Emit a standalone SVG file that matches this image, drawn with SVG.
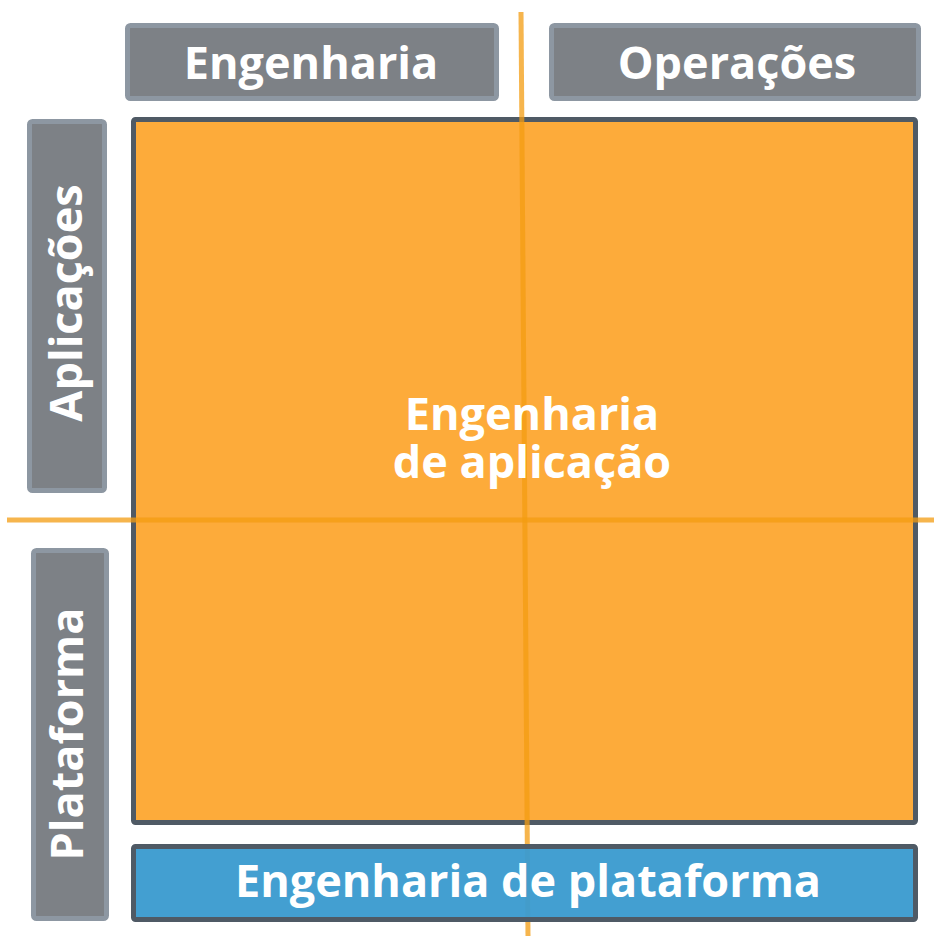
<svg xmlns="http://www.w3.org/2000/svg" width="934" height="936" viewBox="0 0 934 936">
<style>
.hdr{fill:#7d8186;stroke:#8d97a2;stroke-width:5}
.lbl{font-family:"Open Sans","Noto Sans",sans-serif;font-weight:700;font-size:45px;fill:#ffffff;text-anchor:middle}
.axis{stroke:#f39c12;stroke-opacity:0.75;stroke-width:5;fill:none}
</style>
<rect width="934" height="936" fill="#ffffff"/>
<g id="engenharia">
<rect class="hdr" x="127.5" y="25.5" width="369" height="73" rx="3"/>
<text class="lbl" x="311" y="79">Engenharia</text>
</g>
<g id="operacoes">
<rect class="hdr" x="551.5" y="25.5" width="367" height="73" rx="3"/>
<text class="lbl" x="737" y="79">Operações</text>
</g>
<g id="aplicacoes">
<rect class="hdr" x="29.5" y="121.5" width="75" height="369" rx="3"/>
<text class="lbl" transform="translate(82,303) rotate(-90)" x="0" y="0">Aplicações</text>
</g>
<g id="plataforma">
<rect class="hdr" x="33.5" y="550.5" width="73" height="368" rx="3"/>
<text class="lbl" transform="translate(83,734) rotate(-90)" x="0" y="0">Plataforma</text>
</g>
<g id="engenharia-aplicacao">
<rect x="133.5" y="119.5" width="782" height="703" rx="2" fill="#fdab3a" stroke="#4f5a65" stroke-width="5"/>
</g>
<g id="connectors">
<line class="axis" x1="521" y1="12" x2="528" y2="936"/>
<line class="axis" x1="7" y1="520" x2="934" y2="520"/>
</g>
<g id="engenharia-aplicacao-label">
<text class="lbl" x="532" y="430">Engenharia</text>
<text class="lbl" x="532" y="478">de aplicação</text>
</g>
<g id="engenharia-plataforma">
<rect x="133.5" y="846.5" width="782" height="73" rx="2" fill="#3b9bcf" fill-opacity="0.96" stroke="#4f5a65" stroke-width="5"/>
<text class="lbl" x="528" y="897">Engenharia de plataforma</text>
</g>
</svg>
